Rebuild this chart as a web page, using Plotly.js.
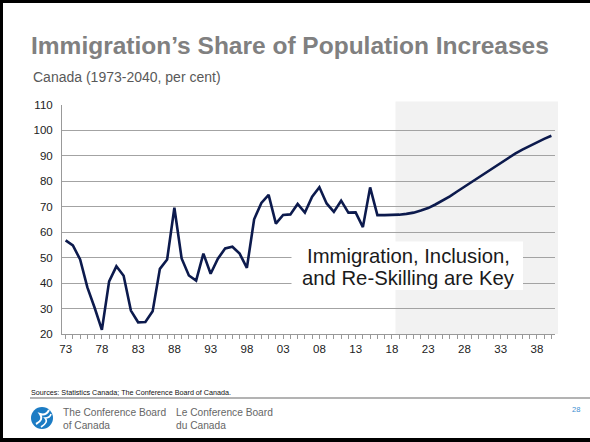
<!DOCTYPE html>
<html>
<head>
<meta charset="utf-8">
<script src="https://cdn.plot.ly/plotly-3.0.1.min.js"></script>
<style>
  html, body { margin:0; padding:0; background:#fff; }
  #wrap { position:relative; width:590px; height:442px; overflow:hidden; }
  #chart { position:absolute; left:0; top:0; width:590px; height:442px; }
  .bar { position:absolute; background:#000; pointer-events:none; }
</style>
</head>
<body>
<div id="wrap">
  <div id="chart"></div>
  <div class="bar" style="left:0;top:0;width:590px;height:3px;"></div>
  <div class="bar" style="left:0;top:0;width:3px;height:442px;"></div>
  <div class="bar" style="left:0;top:438px;width:590px;height:4px;"></div>
</div>
<script>
// ---- data ----
const years = [1973,1974,1975,1976,1977,1978,1979,1980,1981,1982,1983,1984,1985,1986,1987,1988,1989,1990,1991,1992,1993,1994,1995,1996,1997,1998,1999,2000,2001,2002,2003,2004,2005,2006,2007,2008,2009,2010,2011,2012,2013,2014,2015,2016,2017,2018,2019,2020,2021,2022,2023,2024,2025,2026,2027,2028,2029,2030,2031,2032,2033,2034,2035,2036,2037,2038,2039,2040];
const shareValues = [56.8,54.8,49.3,38.3,30.3,21.6,40.7,46.6,42.9,29.2,24.6,24.7,28.9,45.6,49.3,69.6,49.7,43.0,41.0,51.6,43.7,49.6,53.6,54.3,51.6,46.0,65.1,71.5,74.7,63.4,66.8,67.0,71.1,67.7,74.0,77.7,71.3,68.0,72.4,67.7,67.8,62.0,77.6,66.7,66.7,66.7,66.9,67.2,67.7,68.5,69.5,70.9,72.4,74.1,76.0,77.9,79.8,81.7,83.6,85.5,87.4,89.2,90.9,92.5,94.0,95.4,96.7,97.9];
const xTickVals = [1973,1978,1983,1988,1993,1998,2003,2008,2013,2018,2023,2028,2033,2038];
const xTickText = ['73','78','83','88','93','98','03','08','13','18','23','28','33','38'];
const yTickVals = [20,30,40,50,60,70,80,90,100,110];
const forecastStart = 2018.5;

const titleText = "Immigration’s Share of Population Increases";
const subtitleText = "Canada (1973-2040, per cent)";
const boxLine1 = "Immigration, Inclusion,";
const boxLine2 = "and Re-Skilling are Key";
const sourceText = "Sources: Statistics Canada; The Conference Board of Canada.";

// ---- layout geometry (pixels) ----
const W = 590, H = 442;
const L = 62, R = 35, T = 105, B = 108;
const PW = W - L - R, PH = H - T - B;
const px = v => (v - L) / PW;          // page px -> paper x
const py = v => (H - B - v) / PH;      // page px -> paper y
const xMin = 1972.5, xMax = 2040.5;

const FONT = 'Arial, "Liberation Sans", sans-serif';

const trace = {
  x: years, y: shareValues, type: 'scatter', mode: 'lines',
  line: { color: '#0c1a4d', width: 2.6 },
  hoverinfo: 'skip', showlegend: false
};

const layout = {
  width: W, height: H,
  margin: { l: L, r: R, t: T, b: B, pad: 0 },
  paper_bgcolor: '#ffffff', plot_bgcolor: 'rgba(0,0,0,0)',
  font: { family: FONT, color: '#222' },
  title: {
    text: titleText,
    font: { family: FONT, size: 24.5, color: '#808080', weight: 'bold' },
    x: 31 / W, xref: 'container', xanchor: 'left',
    y: 1 - 45 / H, yref: 'container', yanchor: 'middle'
  },
  xaxis: {
    range: [xMin, xMax], tickmode: 'array', tickvals: xTickVals, ticktext: xTickText,
    ticks: 'outside', ticklen: 4, tickwidth: 1, tickcolor: '#999',
    minor: { tickmode: 'linear', tick0: 1973, dtick: 1, ticks: 'outside', ticklen: 4, tickcolor: '#999', showgrid: false },
    showgrid: false, zeroline: false, showline: true, linecolor: '#999', linewidth: 1,
    tickfont: { family: FONT, size: 11.5, color: '#222' }, fixedrange: true
  },
  yaxis: {
    range: [20, 110], tickmode: 'array', tickvals: yTickVals,
    ticks: 'outside', ticklen: 6, tickcolor: 'rgba(0,0,0,0)',
    showgrid: true, gridcolor: '#a3a3a3', gridwidth: 1,
    zeroline: false, showline: true, linecolor: '#999', linewidth: 1,
    tickfont: { family: FONT, size: 11.5, color: '#222' }, fixedrange: true
  },
  shapes: [
    { type: 'rect', layer: 'below', xref: 'paper', yref: 'paper',
      x0: (forecastStart - xMin) / (xMax - xMin), x1: px(558), y0: 0, y1: py(101.5),
      fillcolor: '#f2f2f2', line: { width: 0 } },
    { type: 'rect', layer: 'above', xref: 'paper', yref: 'paper',
      x0: px(291.5), x1: px(523), y0: py(290), y1: py(241.5),
      fillcolor: '#ffffff', line: { width: 0 } },
    { type: 'line', xref: 'paper', yref: 'paper', x0: px(30), x1: px(592), y0: py(398), y1: py(398),
      line: { color: '#9a9a9a', width: 1.5 } },
    { type: 'circle', xref: 'paper', yref: 'paper', x0: px(31), x1: px(53), y0: py(429), y1: py(407),
      fillcolor: '#1c7cc4', line: { width: 0 } },
    { type: 'path', xref: 'paper', yref: 'paper',
      path: `M ${px(36)} ${py(424)} Q ${px(44)} ${py(420)} ${px(40)} ${py(414)} Q ${px(46)} ${py(416)} ${px(49)} ${py(410)}`,
      line: { color: '#ffffff', width: 2 } },
    { type: 'path', xref: 'paper', yref: 'paper',
      path: `M ${px(41)} ${py(427)} Q ${px(49)} ${py(422)} ${px(45)} ${py(418)} Q ${px(50)} ${py(418)} ${px(51)} ${py(414)}`,
      line: { color: '#ffffff', width: 1.6 } }
  ],
  annotations: [
    { text: subtitleText, xref: 'paper', yref: 'paper', x: px(31), y: py(77),
      xanchor: 'left', yanchor: 'middle', showarrow: false,
      font: { family: FONT, size: 14, color: '#595959' } },
    { text: boxLine1, xref: 'paper', yref: 'paper', x: px(408), y: py(256),
      xanchor: 'center', yanchor: 'middle', showarrow: false,
      font: { family: FONT, size: 20.3, color: '#1a1a1a' } },
    { text: boxLine2, xref: 'paper', yref: 'paper', x: px(408), y: py(277.5),
      xanchor: 'center', yanchor: 'middle', showarrow: false,
      font: { family: FONT, size: 20.3, color: '#1a1a1a' } },
    { text: sourceText, xref: 'paper', yref: 'paper', x: px(29), y: py(392),
      xanchor: 'left', yanchor: 'middle', showarrow: false,
      font: { family: FONT, size: 7.2, color: '#111' } },
    { text: 'The Conference Board<br>of Canada', xref: 'paper', yref: 'paper', x: px(61), y: py(419),
      xanchor: 'left', yanchor: 'middle', showarrow: false, align: 'left',
      font: { family: FONT, size: 10.2, color: '#666' } },
    { text: 'Le Conference Board<br>du Canada', xref: 'paper', yref: 'paper', x: px(174), y: py(419),
      xanchor: 'left', yanchor: 'middle', showarrow: false, align: 'left',
      font: { family: FONT, size: 10.2, color: '#666' } },
    { text: '28', xref: 'paper', yref: 'paper', x: px(582), y: py(409),
      xanchor: 'right', yanchor: 'middle', showarrow: false,
      font: { family: FONT, size: 7.5, color: '#3d8fd1' } }
  ]
};

Plotly.newPlot('chart', [trace], layout, { displayModeBar: false, staticPlot: true });
</script>
</body>
</html>
